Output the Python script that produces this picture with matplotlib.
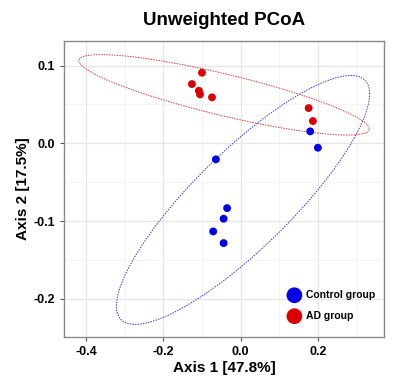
import numpy as np
import matplotlib
matplotlib.use("Agg")
import matplotlib.pyplot as plt
from matplotlib.ticker import MultipleLocator

plt.rcParams["font.family"] = ["Liberation Sans", "DejaVu Sans"]
plt.rcParams["axes.unicode_minus"] = False

# PCoA coordinates
control_x = [0.180, 0.200, -0.064, -0.035, -0.044, -0.071, -0.044]
control_y = [0.0154, -0.0056, -0.0206, -0.0833, -0.0970, -0.1133, -0.1283]
ad_x = [-0.100, -0.126, -0.108, -0.105, -0.074, 0.176, 0.187]
ad_y = [0.0909, 0.0763, 0.0677, 0.0630, 0.0592, 0.0454, 0.0287]

groups = ["Control group", "AD group"]
point_colors = ["#0000ee", "#dd0000"]
ellipse_colors = ["#3333ff", "#ee3333"]


def cov_trob(x, nu=5, maxit=50, tol=0.01):
    # multivariate t robust covariance (like MASS::cov.trob)
    n, p = x.shape
    loc = x.mean(axis=0)
    w = np.ones(n)
    for _ in range(maxit):
        w0 = w
        X = x - loc
        _, d, vt = np.linalg.svd(np.sqrt(w / w.sum())[:, None] * X, full_matrices=False)
        wX = X @ vt.T @ np.diag(1 / d)
        Q = (wX ** 2).sum(axis=1)
        w = (nu + p) / (nu + Q)
        loc = (w[:, None] * x).sum(axis=0) / w.sum()
        if np.all(np.abs(w - w0) < tol):
            break
    X = x - loc
    cov = (np.sqrt(w)[:, None] * X).T @ (np.sqrt(w)[:, None] * X) / n
    return loc, cov


def stat_ellipse(xs, ys, level=0.95, segments=200):
    pts = np.column_stack([xs, ys])
    n = len(pts)
    center, shape = cov_trob(pts)
    dfd = n - 1
    # F quantile with dfn = 2 has a closed form
    qf = (dfd / 2) * ((1 - level) ** (-2 / dfd) - 1)
    radius = np.sqrt(2 * qf)
    chol = np.linalg.cholesky(shape).T
    t = np.linspace(0, 2 * np.pi, segments + 1)
    circle = np.column_stack([np.cos(t), np.sin(t)])
    ell = center + radius * (circle @ chol)
    return ell[:, 0], ell[:, 1]


fig = plt.figure(figsize=(4.0, 3.92), dpi=100)
ax = fig.add_axes([0.161, 0.140, 0.799, 0.756])

for gx, gy, pc, ec, lab in zip([control_x, ad_x], [control_y, ad_y],
                               point_colors, ellipse_colors, groups):
    ex, ey = stat_ellipse(gx, gy)
    ax.plot(ex, ey, color=ec, lw=0.7, ls=(0, (1.5, 1.2)), zorder=2)
    ax.scatter(gx, gy, s=32, color=pc, edgecolors="none", zorder=3, label=lab)

ax.set_xlim(-0.456, 0.371)
ax.set_ylim(-0.2493, 0.132)
ax.xaxis.set_major_locator(MultipleLocator(0.2))
ax.xaxis.set_minor_locator(MultipleLocator(0.1))
ax.yaxis.set_major_locator(MultipleLocator(0.1))
ax.yaxis.set_minor_locator(MultipleLocator(0.05))
ax.grid(which="major", color="#e6e6e6", lw=0.9, zorder=0)
ax.grid(which="minor", color="#f2f2f2", lw=0.6, zorder=0)
ax.set_axisbelow(True)
ax.tick_params(which="major", length=3, color="#555555", labelsize=9)
ax.tick_params(which="minor", length=0)
for lbl in ax.get_xticklabels() + ax.get_yticklabels():
    lbl.set_fontweight("bold")
for s in ax.spines.values():
    s.set_color("#888888")
    s.set_linewidth(1.0)

ax.set_xlabel("Axis 1 [47.8%]", fontsize=11, fontweight="bold", labelpad=2)
ax.set_ylabel("Axis 2 [17.5%]", fontsize=11, fontweight="bold", labelpad=3)
ax.set_title("Unweighted PCoA", fontsize=13.5, fontweight="bold", pad=11)

leg = ax.legend(loc="lower right", bbox_to_anchor=(0.995, 0.03), frameon=False,
                fontsize=7.5, markerscale=2.0, handletextpad=0.1,
                labelspacing=1.05, borderaxespad=0.3)
for t in leg.get_texts():
    t.set_fontweight("bold")

fig.savefig("out.png", dpi=100)
